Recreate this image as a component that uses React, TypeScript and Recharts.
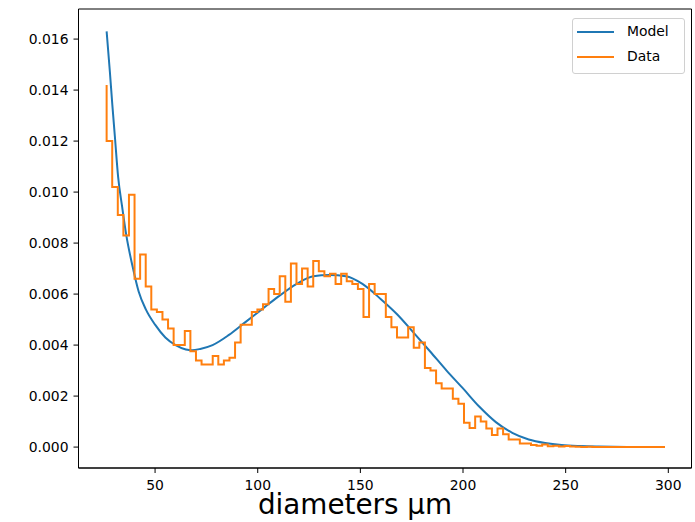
import { LineChart, Line, XAxis, YAxis, ReferenceArea } from 'recharts'

// histogram edges: first edge + constant bin width
const binStart = 26.4
const binWidth = 2.72

// step heights (first value is the level at the first edge)
const dataDensity = [
  0.0142, 0.012, 0.0102, 0.0091, 0.0083, 0.0099, 0.0066, 0.00755, 0.0063, 0.0054,
  0.0053, 0.005, 0.00465, 0.004, 0.004, 0.00455, 0.00376, 0.0034, 0.00324, 0.00324,
  0.00357, 0.00324, 0.0034, 0.0035, 0.0041, 0.0048, 0.0048, 0.0053, 0.0054, 0.0056,
  0.0062, 0.006, 0.0067, 0.0057, 0.0072, 0.0064, 0.007, 0.0063, 0.0073, 0.0069,
  0.0067, 0.0068, 0.0064, 0.0068, 0.0065, 0.0064, 0.0062, 0.0051, 0.0064, 0.006,
  0.006, 0.0051, 0.0047, 0.0043, 0.0043, 0.0047, 0.0039, 0.0041, 0.0031, 0.003,
  0.0025, 0.0023, 0.0023, 0.0019, 0.0017, 0.00095, 0.00075, 0.0012, 0.001, 0.00073,
  0.00047, 0.00073, 0.0005, 0.0003, 0.0003, 0.00014, 0.00014, 0.00008, 0.00005, 0.0001,
  0.00003, 0.00005, 0.00002, 0.00004, 0.00002, 0.00001, 0, 0.00001, 0, 0,
  0, 0, 0, 0, 0, 0, 0, 0, 0, 0,
  0,
]

const modelX = [
  26.4, 28, 29.2, 30.4, 32, 34, 36, 39, 42, 45.5, 50, 55, 60, 65, 68, 72, 78, 86, 94,
  102, 110, 119, 127, 135, 143, 151, 160, 168, 176, 184, 192, 200, 208, 216, 224, 232,
  240, 248, 257, 266, 280, 298.4,
]
const modelY = [
  0.0163, 0.0147, 0.0134, 0.0122, 0.0106, 0.0094, 0.0083, 0.0071, 0.0061, 0.0054,
  0.0048, 0.0043, 0.004, 0.00383, 0.0038, 0.00385, 0.004, 0.0044, 0.0049, 0.0054,
  0.0059, 0.0064, 0.0067, 0.00675, 0.0067, 0.0064, 0.0058, 0.0052, 0.00448, 0.00375,
  0.003, 0.0023, 0.00158, 0.00098, 0.00056, 0.0003, 0.00016, 0.00008, 0.00004, 0.00002,
  0.000005, 0,
]

const xTicks = [50, 100, 150, 200, 250, 300]
const yTicks = [0, 0.002, 0.004, 0.006, 0.008, 0.01, 0.012, 0.014, 0.016]

const xDomain = [12.7, 311.3]
const yDomain = [-0.00082, 0.01718]

const dataPoints = dataDensity.map((y, i) => ({ x: binStart + binWidth * i, y }))
const modelPoints = modelX.map((x, i) => ({ x, y: modelY[i] }))

const font = "'DejaVu Sans', sans-serif"
const tickStyle = { fill: '#000', fontSize: 13.9, fontFamily: font }

function XLabel() {
  return (
    <text x={355} y={514} textAnchor="middle" fontSize={27.8} fontFamily={font} fill="#000">
      diameters μm
    </text>
  )
}

export default function App() {
  return (
    <div style={{ position: 'absolute', left: 0, top: 0, width: 695, height: 522, background: '#fff' }}>
      <LineChart width={695} height={522} margin={{ top: 9, right: 3.5, bottom: 0, left: 0 }}>
        <XAxis
          type="number"
          dataKey="x"
          domain={xDomain}
          ticks={xTicks}
          allowDataOverflow
          height={54}
          stroke="#000"
          tickSize={5}
          tickMargin={7}
          tick={tickStyle}
          label={<XLabel />}
        />
        <YAxis
          type="number"
          dataKey="y"
          domain={yDomain}
          ticks={yTicks}
          allowDataOverflow
          width={78.5}
          stroke="#000"
          tickSize={5}
          tickMargin={5}
          tick={tickStyle}
          tickFormatter={(v: number) => v.toFixed(3)}
        />
        <ReferenceArea
          x1={xDomain[0]}
          x2={xDomain[1]}
          y1={yDomain[0]}
          y2={yDomain[1]}
          fill="none"
          stroke="#000"
          strokeWidth={1}
        />
        <Line
          data={modelPoints}
          dataKey="y"
          type="monotone"
          stroke="#1f77b4"
          strokeWidth={2}
          dot={false}
          isAnimationActive={false}
        />
        <Line
          data={dataPoints}
          dataKey="y"
          type="stepBefore"
          stroke="#ff7f0e"
          strokeWidth={2}
          dot={false}
          isAnimationActive={false}
        />
      </LineChart>

      <div
        style={{
          position: 'absolute',
          left: 572,
          top: 18,
          width: 111,
          height: 54,
          border: '1px solid #d0d0d0',
          borderRadius: 3,
          background: 'rgba(255,255,255,0.8)',
          fontFamily: font,
          fontSize: 13.9,
        }}
      >
        <div style={{ position: 'absolute', left: 4, top: 12, width: 37, height: 2, background: '#1f77b4' }} />
        <span style={{ position: 'absolute', left: 54, top: 4, lineHeight: '16px' }}>Model</span>
        <div style={{ position: 'absolute', left: 4, top: 37, width: 37, height: 2, background: '#ff7f0e' }} />
        <span style={{ position: 'absolute', left: 54, top: 29, lineHeight: '16px' }}>Data</span>
      </div>
    </div>
  )
}
